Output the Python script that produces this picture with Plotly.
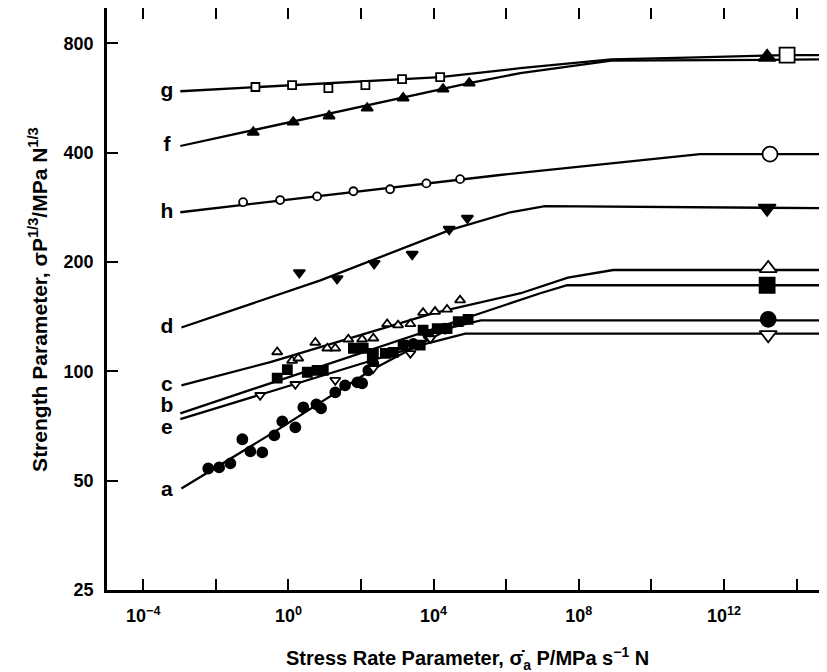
import plotly.graph_objects as go

# x values are log10 of the stress rate parameter, y values are the strength parameter
# ---- fitted curves ----
line_a_x = [-2.95, -0.4, 2.3, 4.5, 5.3, 14.9]
line_a_y = [47.6, 68, 101, 132, 138, 138]
line_b_x = [-2.98, 5.83, 6.94, 7.68, 14.9]
line_b_y = [76.6, 150, 164, 172.5, 172.5]
line_c_x = [-2.95, -0.5, 4.0, 6.4, 7.7, 8.95, 14.9]
line_c_y = [91.5, 106, 144.5, 164, 181, 190, 190]
line_d_x = [-2.95, 0.88, 4.46, 6.11, 7.07, 14.9]
line_d_y = [132, 178, 245, 274, 285, 281]
line_e_x = [-2.98, 3.91, 4.87, 14.9]
line_e_y = [73.8, 120, 127, 127]
line_f_x = [-2.98, 4.98, 6.39, 8.9, 14.9]
line_f_y = [417, 621, 662, 716, 722]
line_g_x = [-2.98, 4.18, 6.39, 8.9, 11.0, 13.7, 14.9]
line_g_y = [590, 645, 683, 722, 730, 742, 742]
line_h_x = [-2.98, 5.83, 11.34, 14.9]
line_h_y = [274, 347, 396, 396]

# ---- measured points ----
a_x = [-2.21, -1.91, -1.60, -1.27, -1.05, -0.72, -0.39, -0.17, 0.19, 0.41, 0.77,
       0.90, 1.29, 1.56, 1.90, 2.03, 2.20, 2.34, 3.44, 3.85, 4.32]
a_y = [54, 54.4, 55.8, 65, 60.2, 59.8, 66.6, 72.8, 70.1, 79.6, 81.1,
       79.1, 87.5, 91.5, 93.2, 92.7, 100.6, 105, 119, 126, 131]
b_x = [-0.31, -0.03, 0.52, 0.79, 0.96, 1.79, 2.06, 2.31, 2.34, 2.67, 2.89,
       3.16, 3.63, 3.71, 4.10, 4.37, 4.68, 4.95]
b_y = [95.7, 101, 99.4, 100.6, 100.6, 115.7, 115.7, 108.6, 112, 112, 112.8,
       118, 118, 129.7, 131, 131, 137, 139]
c_x = [-0.31, 0.10, 0.27, 0.74, 1.07, 1.29, 1.65, 2.03, 2.34, 2.72, 3.02,
       3.36, 3.71, 4.04, 4.37, 4.73]
c_y = [113, 107, 108.6, 120, 115.7, 115.7, 122.5, 122.5, 123.3, 135, 134,
       135, 145, 146, 148, 157]
d_x = [0.30, 1.34, 2.36, 3.41, 4.43, 4.93]
d_y = [187, 180, 198, 210, 246, 264]
e_x = [-0.78, 0.19, 1.29, 2.34, 3.36, 3.91]
e_y = [85.9, 92.1, 94.5, 101.9, 112, 123]
f_x = [-0.97, 0.13, 1.12, 2.17, 3.16, 4.26, 4.98]
f_y = [455, 485, 504, 530, 565, 598, 621]
g_x = [-0.91, 0.10, 1.10, 2.12, 3.13, 4.18]
g_y = [606, 613, 602, 613, 637, 645]
h_x = [-1.25, -0.23, 0.79, 1.79, 2.80, 3.80, 4.73]
h_y = [292, 296, 303, 313, 317, 329, 338]

# large markers on the plateaus
end_x = {"a": 13.22, "b": 13.19, "c": 13.22, "d": 13.19, "e": 13.22, "f": 13.19, "g": 13.74, "h": 13.27}
end_y = {"a": 139, "b": 172.5, "c": 192, "d": 281, "e": 126, "f": 732, "g": 742, "h": 396}

curve_names = ["a", "b", "c", "d", "e", "f", "g", "h"]
label_y = [47, 80, 91, 132, 69.5, 417, 590, 274]

x_tick_exp = [-4, -2, 0, 2, 4, 6, 8, 10, 12, 14]
x_tick_text = ["10<sup>−4</sup>", "", "10<sup>0</sup>", "", "10<sup>4</sup>", "",
               "10<sup>8</sup>", "", "10<sup>12</sup>", ""]
y_ticks = [25, 50, 100, 200, 400, 800]

FONT = "Liberation Sans, Arial, sans-serif"

lines = {
    "a": (line_a_x, line_a_y), "b": (line_b_x, line_b_y), "c": (line_c_x, line_c_y),
    "d": (line_d_x, line_d_y), "e": (line_e_x, line_e_y), "f": (line_f_x, line_f_y),
    "g": (line_g_x, line_g_y), "h": (line_h_x, line_h_y),
}
points = {
    "a": (a_x, a_y), "b": (b_x, b_y), "c": (c_x, c_y), "d": (d_x, d_y),
    "e": (e_x, e_y), "f": (f_x, f_y), "g": (g_x, g_y), "h": (h_x, h_y),
}
# symbol, filled?, size
styles = {
    "a": ("circle", True, 10), "b": ("square", True, 9), "c": ("triangle-up", False, 9),
    "d": ("triangle-down", True, 10), "e": ("triangle-down", False, 9),
    "f": ("triangle-up", True, 10), "g": ("square", False, 8), "h": ("circle", False, 8),
}


def pow10(vals):
    return [10 ** v for v in vals]


fig = go.Figure()

for name in curve_names:
    lx, ly = lines[name]
    fig.add_trace(go.Scatter(x=pow10(lx), y=ly, mode="lines",
                             line=dict(color="black", width=2.3), showlegend=False))

for name in curve_names:
    px, py = points[name]
    sym, filled, size = styles[name]
    fill = "black" if filled else "white"
    fig.add_trace(go.Scatter(
        x=pow10(px) + [10 ** end_x[name]], y=py + [end_y[name]], mode="markers",
        marker=dict(symbol=sym, color=fill, size=[size] * len(px) + [15], opacity=1,
                    line=dict(color="black", width=1.8)),
        showlegend=False))

fig.add_trace(go.Scatter(
    x=[10 ** -3.35] * len(curve_names), y=label_y, mode="text", text=curve_names,
    textfont=dict(family=FONT, size=21, color="black", weight="bold"),
    textposition="middle center", showlegend=False))

axis_common = dict(
    showgrid=False, zeroline=False, showline=True, linecolor="black", linewidth=2.5,
    ticks="inside", ticklen=11, tickwidth=2, tickcolor="black", automargin=False,
    tickfont=dict(family=FONT, size=18, color="black", weight="bold"),
)

fig.update_xaxes(type="log", range=[-5, 14.84], tickvals=pow10(x_tick_exp),
                 ticktext=x_tick_text, mirror="ticks", ticklabelstandoff=8, **axis_common)
fig.update_yaxes(type="log", range=[1.39794, 3.0], tickvals=y_ticks,
                 ticktext=[str(v) for v in y_ticks], ticklabelstandoff=7, **axis_common)

# the page puts the figure 8 px in from the top-left corner
fig.add_annotation(text="Stress Rate Parameter, σ̇<sub>a</sub> P/MPa s<sup>−1</sup> N",
                   xref="paper", yref="paper", x=0.5, y=-0.118, xanchor="center",
                   yanchor="middle", showarrow=False,
                   font=dict(family=FONT, size=20, color="black", weight="bold"))
fig.add_annotation(text="Strength Parameter, σP<sup>1/3</sup>/MPa N<sup>1/3</sup>",
                   xref="paper", yref="paper", x=-0.096, y=0.5, xanchor="center",
                   yanchor="middle", textangle=-90, showarrow=False,
                   font=dict(family=FONT, size=21, color="black", weight="bold"))

fig.update_layout(
    width=827, height=672,
    margin=dict(l=99, r=8, t=0, b=90),
    plot_bgcolor="white", paper_bgcolor="white",
)

fig.write_html("out.html")
